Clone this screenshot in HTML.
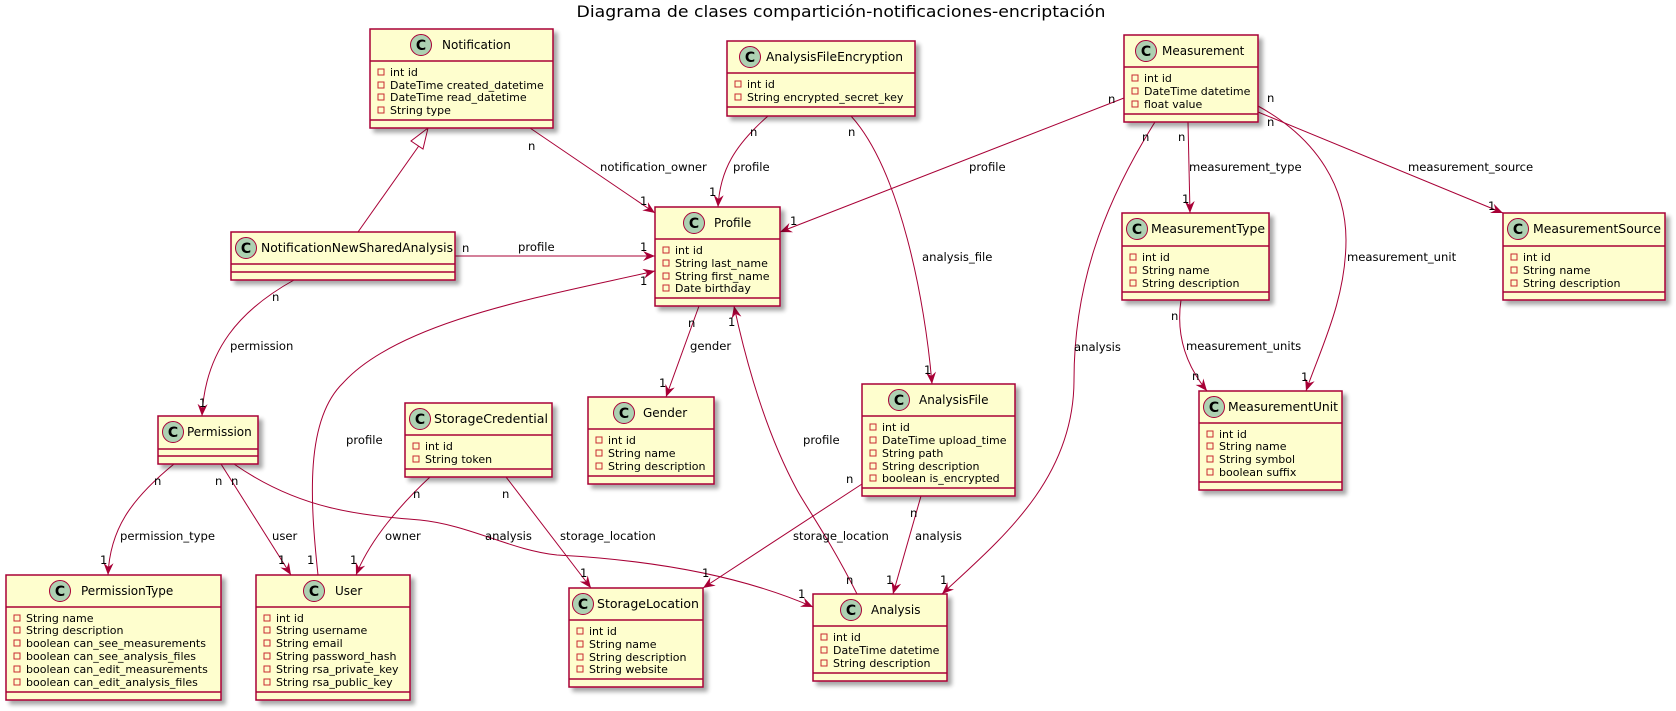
<!DOCTYPE html>
<html><head><meta charset="utf-8"><style>
html,body{margin:0;padding:0;background:#fff;}
svg{display:block;}
text{font-family:"DejaVu Sans","Liberation Sans",sans-serif;fill:#000;}
.n{font-size:12px;}
.m{font-size:11px;}
.l{font-size:11.6px;}
.b{fill:#FEFECE;stroke:#A80036;stroke-width:1.5;}
.s{fill:none;stroke:#A80036;stroke-width:1.5;}
.e{fill:none;stroke:#A80036;stroke-width:1;}
.v{fill:none;stroke:#C82930;stroke-width:1;}
.c{fill:#ADD1B2;stroke:#A80036;stroke-width:1;}
.ct{font-size:14px;font-weight:bold;}
</style></head><body>
<svg width="1676" height="711" viewBox="0 0 1676 711" xmlns="http://www.w3.org/2000/svg">
<defs>
<filter id="sh" x="-10%" y="-10%" width="130%" height="130%"><feGaussianBlur in="SourceAlpha" stdDeviation="2"/><feOffset dx="4" dy="4"/><feComponentTransfer><feFuncA type="linear" slope="0.35"/></feComponentTransfer><feMerge><feMergeNode/><feMergeNode in="SourceGraphic"/></feMerge></filter>
<marker id="a" markerWidth="14" markerHeight="12" refX="12" refY="5" orient="auto" markerUnits="userSpaceOnUse"><path d="M0,0 L12,5 L0,10 L4,5 Z" fill="#A80036"/></marker>
</defs>

<text x="841" y="17" text-anchor="middle" font-size="16" textLength="529" lengthAdjust="spacingAndGlyphs">Diagrama de clases compartición-notificaciones-encriptación</text>

<!-- edges -->
<g class="e">
<path d="M530,128 L655,213" marker-end="url(#a)"/>
<path d="M358,232 L423,140"/>
<path d="M455,256 L655,256" marker-end="url(#a)"/>
<path d="M294,280 C240,310 205,350 202,416" marker-end="url(#a)"/>
<path d="M768,116 C735,145 720,170 718,207" marker-end="url(#a)"/>
<path d="M851,116 C900,170 925,300 932,384" marker-end="url(#a)"/>
<path d="M1124,98 L780,232" marker-end="url(#a)"/>
<path d="M1155,122 C1100,210 1074,290 1074,380 C1074,480 1000,540 942,594" marker-end="url(#a)"/>
<path d="M1188,122 L1190,213" marker-end="url(#a)"/>
<path d="M1258,106 C1320,140 1346,190 1346,240 C1346,300 1320,350 1306,391" marker-end="url(#a)"/>
<path d="M1258,112 L1503,213" marker-end="url(#a)"/>
<path d="M1181,300 C1175,340 1190,370 1207,391" marker-end="url(#a)"/>
<path d="M699,306 L666,397" marker-end="url(#a)"/>
<path d="M857,594 C830,540 805,505 797,490 C770,440 750,380 734,306" marker-end="url(#a)"/>
<path d="M318,575 C310,500 305,420 343,383 C400,320 550,295 655,271" marker-end="url(#a)"/>
<path d="M174,464 C130,500 110,530 108,575" marker-end="url(#a)"/>
<path d="M221,464 L291,575" marker-end="url(#a)"/>
<path d="M234,464 C300,510 360,515 420,520 C470,525 510,550 557,555 C650,560 740,575 813,607" marker-end="url(#a)"/>
<path d="M430,477 C400,505 370,540 356,575" marker-end="url(#a)"/>
<path d="M506,477 L591,588" marker-end="url(#a)"/>
<path d="M862,484 L703,588" marker-end="url(#a)"/>
<path d="M921,496 L893,594" marker-end="url(#a)"/>
</g>
<polygon points="428,128 411,141 423,149" fill="#fff" stroke="#A80036" stroke-width="1"/>

<!-- edge labels -->
<g class="l">
<text x="600" y="171">notification_owner</text>
<text x="528" y="150">n</text><text x="640" y="205">1</text>
<text x="518" y="251">profile</text>
<text x="462" y="252">n</text><text x="640" y="251">1</text>
<text x="230" y="350">permission</text>
<text x="272" y="301">n</text><text x="199" y="407">1</text>
<text x="733" y="171">profile</text>
<text x="750" y="136">n</text><text x="709" y="196">1</text>
<text x="922" y="261">analysis_file</text>
<text x="848" y="136">n</text><text x="924" y="374">1</text>
<text x="969" y="171">profile</text>
<text x="1108" y="103">n</text><text x="790" y="225">1</text>
<text x="1074" y="351">analysis</text>
<text x="1142" y="141">n</text><text x="940" y="584">1</text>
<text x="1189" y="171">measurement_type</text>
<text x="1178" y="141">n</text><text x="1182" y="203">1</text>
<text x="1347" y="261">measurement_unit</text>
<text x="1267" y="102">n</text><text x="1301" y="381">1</text>
<text x="1408" y="171">measurement_source</text>
<text x="1267" y="126">n</text><text x="1488" y="210">1</text>
<text x="1186" y="350">measurement_units</text>
<text x="1171" y="320">n</text><text x="1192" y="380">n</text>
<text x="690" y="350">gender</text>
<text x="688" y="327">n</text><text x="659" y="387">1</text>
<text x="803" y="444">profile</text>
<text x="846" y="584">n</text><text x="728" y="326">1</text>
<text x="346" y="444">profile</text>
<text x="307" y="564">1</text><text x="640" y="285">1</text>
<text x="120" y="540">permission_type</text>
<text x="154" y="485">n</text><text x="100" y="564">1</text>
<text x="272" y="540">user</text>
<text x="215" y="485">n</text><text x="278" y="564">1</text>
<text x="485" y="540">analysis</text>
<text x="231" y="485">n</text><text x="798" y="598">1</text>
<text x="385" y="540">owner</text>
<text x="413" y="498">n</text><text x="350" y="564">1</text>
<text x="560" y="540">storage_location</text>
<text x="502" y="498">n</text><text x="580" y="577">1</text>
<text x="793" y="540">storage_location</text>
<text x="846" y="483">n</text><text x="702" y="577">1</text>
<text x="915" y="540">analysis</text>
<text x="910" y="517">n</text><text x="886" y="584">1</text>
</g>

<!-- classes -->
<g filter="url(#sh)">
<rect class="b" x="370" y="29" width="183" height="99"/>
<rect class="b" x="231" y="232" width="224" height="48"/>
<rect class="b" x="727" y="41" width="188" height="75"/>
<rect class="b" x="655" y="207" width="125" height="99"/>
<rect class="b" x="1124" y="35" width="134" height="87"/>
<rect class="b" x="1122" y="213" width="147" height="87"/>
<rect class="b" x="1503" y="213" width="162" height="87"/>
<rect class="b" x="158" y="416" width="100" height="48"/>
<rect class="b" x="405" y="403" width="147" height="74"/>
<rect class="b" x="6" y="575" width="215" height="125"/>
<rect class="b" x="256" y="575" width="154" height="125"/>
<rect class="b" x="588" y="397" width="126" height="87"/>
<rect class="b" x="862" y="384" width="153" height="112"/>
<rect class="b" x="569" y="588" width="134" height="99"/>
<rect class="b" x="813" y="594" width="134" height="87"/>
<rect class="b" x="1199" y="391" width="143" height="99"/>
</g>
<g class="s">
<path d="M370,61H553M370,120H553"/>
<path d="M231,264H455M231,272H455"/>
<path d="M727,73H915M727,107H915"/>
<path d="M655,239H780M655,298H780"/>
<path d="M1124,67H1258M1124,114H1258"/>
<path d="M1122,246H1269M1122,292H1269"/>
<path d="M1503,246H1665M1503,292H1665"/>
<path d="M158,449H258M158,456H258"/>
<path d="M405,435H552M405,469H552"/>
<path d="M6,607H221M6,692H221"/>
<path d="M256,607H410M256,692H410"/>
<path d="M588,429H714M588,476H714"/>
<path d="M862,416H1015M862,488H1015"/>
<path d="M569,620H703M569,679H703"/>
<path d="M813,626H947M813,673H947"/>
<path d="M1199,423H1342M1199,482H1342"/>
</g>

<!-- headers: circle + name -->
<g>
<circle class="c" cx="421" cy="45" r="10.5"/><text class="ct" x="421" y="50" text-anchor="middle">C</text><text class="n" x="442" y="49">Notification</text>
<circle class="c" cx="246" cy="248" r="10.5"/><text class="ct" x="246" y="253" text-anchor="middle">C</text><text class="n" x="261" y="252" textLength="192" lengthAdjust="spacingAndGlyphs">NotificationNewSharedAnalysis</text>
<circle class="c" cx="750" cy="57" r="10.5"/><text class="ct" x="750" y="62" text-anchor="middle">C</text><text class="n" x="766" y="61" textLength="137" lengthAdjust="spacingAndGlyphs">AnalysisFileEncryption</text>
<circle class="c" cx="694" cy="223" r="10.5"/><text class="ct" x="694" y="228" text-anchor="middle">C</text><text class="n" x="714" y="227">Profile</text>
<circle class="c" cx="1146" cy="51" r="10.5"/><text class="ct" x="1146" y="56" text-anchor="middle">C</text><text class="n" x="1162" y="55">Measurement</text>
<circle class="c" cx="1137" cy="229" r="10.5"/><text class="ct" x="1137" y="234" text-anchor="middle">C</text><text class="n" x="1151" y="233" textLength="114" lengthAdjust="spacingAndGlyphs">MeasurementType</text>
<circle class="c" cx="1518" cy="229" r="10.5"/><text class="ct" x="1518" y="234" text-anchor="middle">C</text><text class="n" x="1533" y="233" textLength="128" lengthAdjust="spacingAndGlyphs">MeasurementSource</text>
<circle class="c" cx="173" cy="432" r="10.5"/><text class="ct" x="173" y="437" text-anchor="middle">C</text><text class="n" x="187" y="436">Permission</text>
<circle class="c" cx="420" cy="419" r="10.5"/><text class="ct" x="420" y="424" text-anchor="middle">C</text><text class="n" x="434" y="423" textLength="114" lengthAdjust="spacingAndGlyphs">StorageCredential</text>
<circle class="c" cx="60" cy="591" r="10.5"/><text class="ct" x="60" y="596" text-anchor="middle">C</text><text class="n" x="81" y="595">PermissionType</text>
<circle class="c" cx="314" cy="591" r="10.5"/><text class="ct" x="314" y="596" text-anchor="middle">C</text><text class="n" x="335" y="595">User</text>
<circle class="c" cx="624" cy="413" r="10.5"/><text class="ct" x="624" y="418" text-anchor="middle">C</text><text class="n" x="643" y="417">Gender</text>
<circle class="c" cx="899" cy="400" r="10.5"/><text class="ct" x="899" y="405" text-anchor="middle">C</text><text class="n" x="919" y="404">AnalysisFile</text>
<circle class="c" cx="583" cy="604" r="10.5"/><text class="ct" x="583" y="609" text-anchor="middle">C</text><text class="n" x="597" y="608" textLength="102" lengthAdjust="spacingAndGlyphs">StorageLocation</text>
<circle class="c" cx="851" cy="610" r="10.5"/><text class="ct" x="851" y="615" text-anchor="middle">C</text><text class="n" x="871" y="614">Analysis</text>
<circle class="c" cx="1214" cy="407" r="10.5"/><text class="ct" x="1214" y="412" text-anchor="middle">C</text><text class="n" x="1228" y="411" textLength="110" lengthAdjust="spacingAndGlyphs">MeasurementUnit</text>
</g>

<!-- members -->
<g class="m">
<text x="390" y="76">int id</text><text x="390" y="89">DateTime created_datetime</text><text x="390" y="101">DateTime read_datetime</text><text x="390" y="114">String type</text>
<text x="747" y="88">int id</text><text x="747" y="101">String encrypted_secret_key</text>
<text x="675" y="254">int id</text><text x="675" y="267">String last_name</text><text x="675" y="280">String first_name</text><text x="675" y="292">Date birthday</text>
<text x="1144" y="82">int id</text><text x="1144" y="95">DateTime datetime</text><text x="1144" y="108">float value</text>
<text x="1142" y="261">int id</text><text x="1142" y="274">String name</text><text x="1142" y="287">String description</text>
<text x="1523" y="261">int id</text><text x="1523" y="274">String name</text><text x="1523" y="287">String description</text>
<text x="425" y="450">int id</text><text x="425" y="463">String token</text>
<text x="26" y="622">String name</text><text x="26" y="634">String description</text><text x="26" y="647">boolean can_see_measurements</text><text x="26" y="660">boolean can_see_analysis_files</text><text x="26" y="673">boolean can_edit_measurements</text><text x="26" y="686">boolean can_edit_analysis_files</text>
<text x="276" y="622">int id</text><text x="276" y="634">String username</text><text x="276" y="647">String email</text><text x="276" y="660">String password_hash</text><text x="276" y="673">String rsa_private_key</text><text x="276" y="686">String rsa_public_key</text>
<text x="608" y="444">int id</text><text x="608" y="457">String name</text><text x="608" y="470">String description</text>
<text x="882" y="431">int id</text><text x="882" y="444">DateTime upload_time</text><text x="882" y="457">String path</text><text x="882" y="470">String description</text><text x="882" y="482">boolean is_encrypted</text>
<text x="589" y="635">int id</text><text x="589" y="648">String name</text><text x="589" y="661">String description</text><text x="589" y="673">String website</text>
<text x="833" y="641">int id</text><text x="833" y="654">DateTime datetime</text><text x="833" y="667">String description</text>
<text x="1219" y="438">int id</text><text x="1219" y="450">String name</text><text x="1219" y="463">String symbol</text><text x="1219" y="476">boolean suffix</text>
</g>
<g class="v">
<path d="M378,69h6v6h-6zM378,82h6v6h-6zM378,94h6v6h-6zM378,107h6v6h-6z"/>
<path d="M735,81h6v6h-6zM735,94h6v6h-6z"/>
<path d="M663,247h6v6h-6zM663,260h6v6h-6zM663,273h6v6h-6zM663,285h6v6h-6z"/>
<path d="M1132,75h6v6h-6zM1132,88h6v6h-6zM1132,101h6v6h-6z"/>
<path d="M1130,254h6v6h-6zM1130,267h6v6h-6zM1130,280h6v6h-6z"/>
<path d="M1511,254h6v6h-6zM1511,267h6v6h-6zM1511,280h6v6h-6z"/>
<path d="M413,443h6v6h-6zM413,456h6v6h-6z"/>
<path d="M14,615h6v6h-6zM14,627h6v6h-6zM14,640h6v6h-6zM14,653h6v6h-6zM14,666h6v6h-6zM14,679h6v6h-6z"/>
<path d="M264,615h6v6h-6zM264,627h6v6h-6zM264,640h6v6h-6zM264,653h6v6h-6zM264,666h6v6h-6zM264,679h6v6h-6z"/>
<path d="M596,437h6v6h-6zM596,450h6v6h-6zM596,463h6v6h-6z"/>
<path d="M870,424h6v6h-6zM870,437h6v6h-6zM870,450h6v6h-6zM870,463h6v6h-6zM870,475h6v6h-6z"/>
<path d="M577,628h6v6h-6zM577,641h6v6h-6zM577,654h6v6h-6zM577,666h6v6h-6z"/>
<path d="M821,634h6v6h-6zM821,647h6v6h-6zM821,660h6v6h-6z"/>
<path d="M1207,431h6v6h-6zM1207,443h6v6h-6zM1207,456h6v6h-6zM1207,469h6v6h-6z"/>
</g>
</svg>
</body></html>
